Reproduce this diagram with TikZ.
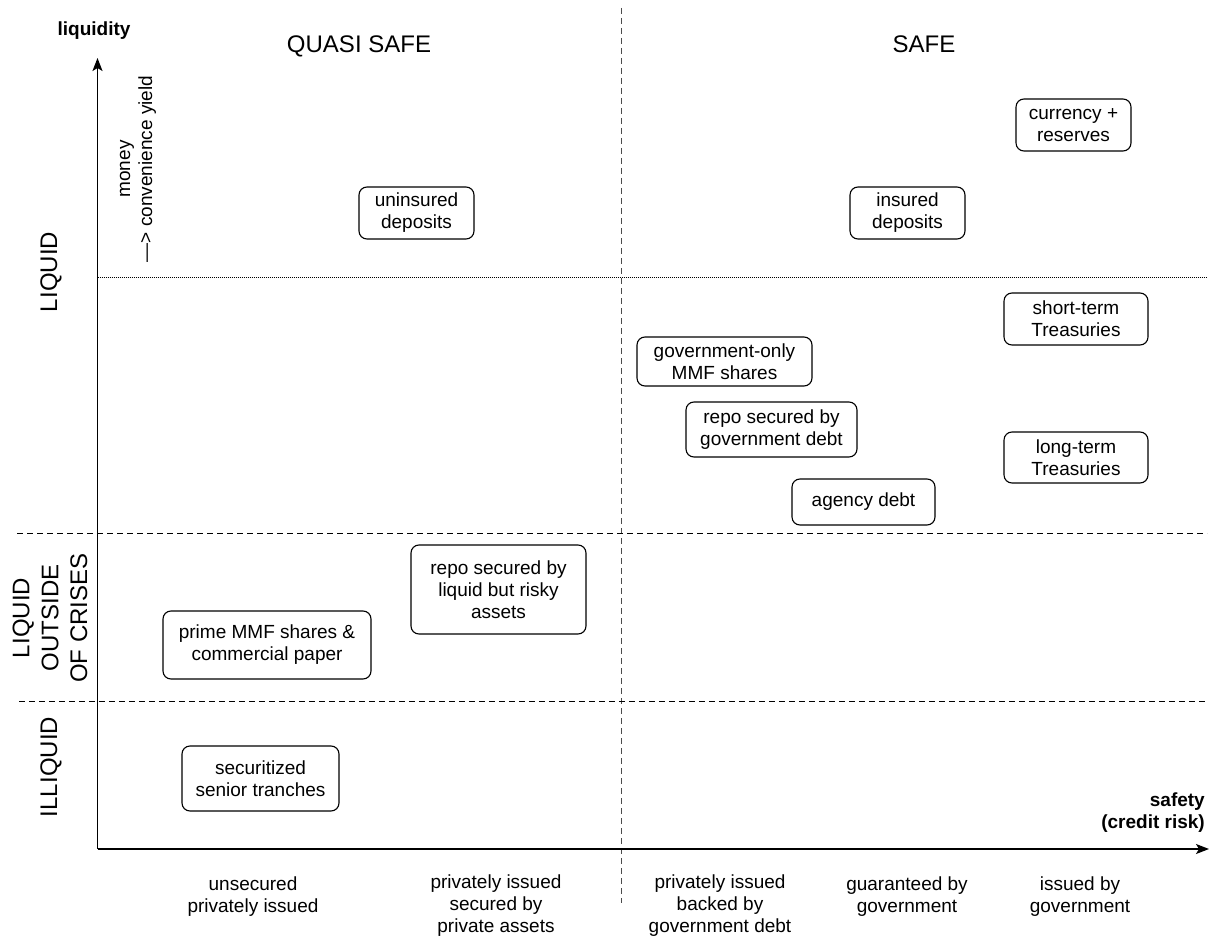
\documentclass[tikz,border=0pt]{standalone}
\usepackage{fontspec}
\setmainfont{Liberation Sans}
\usetikzlibrary{arrows.meta}
\newcommand{\assetfont}{\fontsize{19}{22}\selectfont}
\newcommand{\zonefont}{\fontsize{24}{28.8}\selectfont}
\tikzset{
  asset/.style={draw, line width=1.1pt, rounded corners=8pt, fill=white, align=center, inner sep=0pt, font=\assetfont},
  axis/.style={line width=1.3pt, -{Stealth[length=13pt,width=10pt,inset=3pt]}},
  divider/.style={line width=1pt, dash pattern=on 6pt off 4pt},
  zone/.style={rotate=90, align=center, inner sep=0pt, font=\zonefont},
  issuer/.style={anchor=north, align=center, inner sep=0pt, font=\assetfont}
}
\begin{document}
\begin{tikzpicture}[x=1pt, y=-1pt]
\useasboundingbox (0,0) rectangle (1213,939);
\coordinate (O) at (97.5,849);
\coordinate (ytip) at (97.5,58);
\coordinate (xtip) at (1209,849);
\draw[divider, black!70] (621,8) -- (621,903);
\draw[line width=0.8pt, dash pattern=on 1pt off 1pt] (97.5,277.5) -- (1206,277.5);
\draw[divider] (17,533) -- (1207,533);
\draw[divider] (19,701.5) -- (1207,701.5);
\draw[axis] (O) -- (ytip);
\draw[axis] (O) -- (xtip);
\node[anchor=base, font=\assetfont\bfseries] (liq) at (94,36) {liquidity};
\node[anchor=north east, align=right, inner sep=0pt, font=\assetfont\bfseries] (saf) at (1205,793) {safety\\(credit risk)};
\node[anchor=base, font=\zonefont] (quasi) at (359,53) {QUASI SAFE};
\node[anchor=base, font=\zonefont] (safe) at (924,53) {SAFE};
\node[zone] (zliquid) at (51,272) {LIQUID};
\node[zone] (zoutside) at (50,618) {LIQUID\\OUTSIDE\\OF CRISES};
\node[zone] (zilliquid) at (51,767) {ILLIQUID};
\node[rotate=90, align=center, inner sep=0pt, font=\assetfont] (money) at (138,169) {money\\—> convenience yield};
\node[asset, minimum width=115pt, minimum height=52pt] (uninsured) at (416.5,213) {uninsured\\deposits};
\node[asset, minimum width=115pt, minimum height=52pt] (insured) at (907.5,213) {insured\\deposits};
\node[asset, minimum width=115pt, minimum height=52pt] (currency) at (1073.5,125) {currency +\\reserves};
\node[asset, minimum width=144pt, minimum height=52pt] (short) at (1076,319) {short-term\\Treasuries};
\node[asset, minimum width=144pt, minimum height=51pt] (long) at (1076,457.5) {long-term\\Treasuries};
\node[asset, minimum width=175pt, minimum height=49pt] (govmmf) at (724.5,361.5) {government-only\\MMF shares};
\node[asset, minimum width=171pt, minimum height=55pt] (repogov) at (771.5,429.5) {repo secured by\\government debt};
\node[asset, minimum width=143pt, minimum height=46pt] (agency) at (863.5,502) {agency debt};
\node[asset, minimum width=175pt, minimum height=89pt] (reporisky) at (498.5,589.5) {repo secured by\\liquid but risky\\assets};
\node[asset, minimum width=208pt, minimum height=68pt] (prime) at (267,645) {prime MMF shares \&\\commercial paper};
\node[asset, minimum width=157pt, minimum height=65pt] (securitized) at (260.5,778.5) {securitized\\senior tranches};
\node[issuer] (unsecured) at (253,877) {unsecured\\privately issued};
\node[issuer] (privsec) at (496,875) {privately issued\\secured by\\private assets};
\node[issuer] (privgov) at (720,875) {privately issued\\backed by\\government debt};
\node[issuer] (guaranteed) at (907,877) {guaranteed by\\government};
\node[issuer] (issued) at (1080,877) {issued by\\government};
\end{tikzpicture}
\end{document}
